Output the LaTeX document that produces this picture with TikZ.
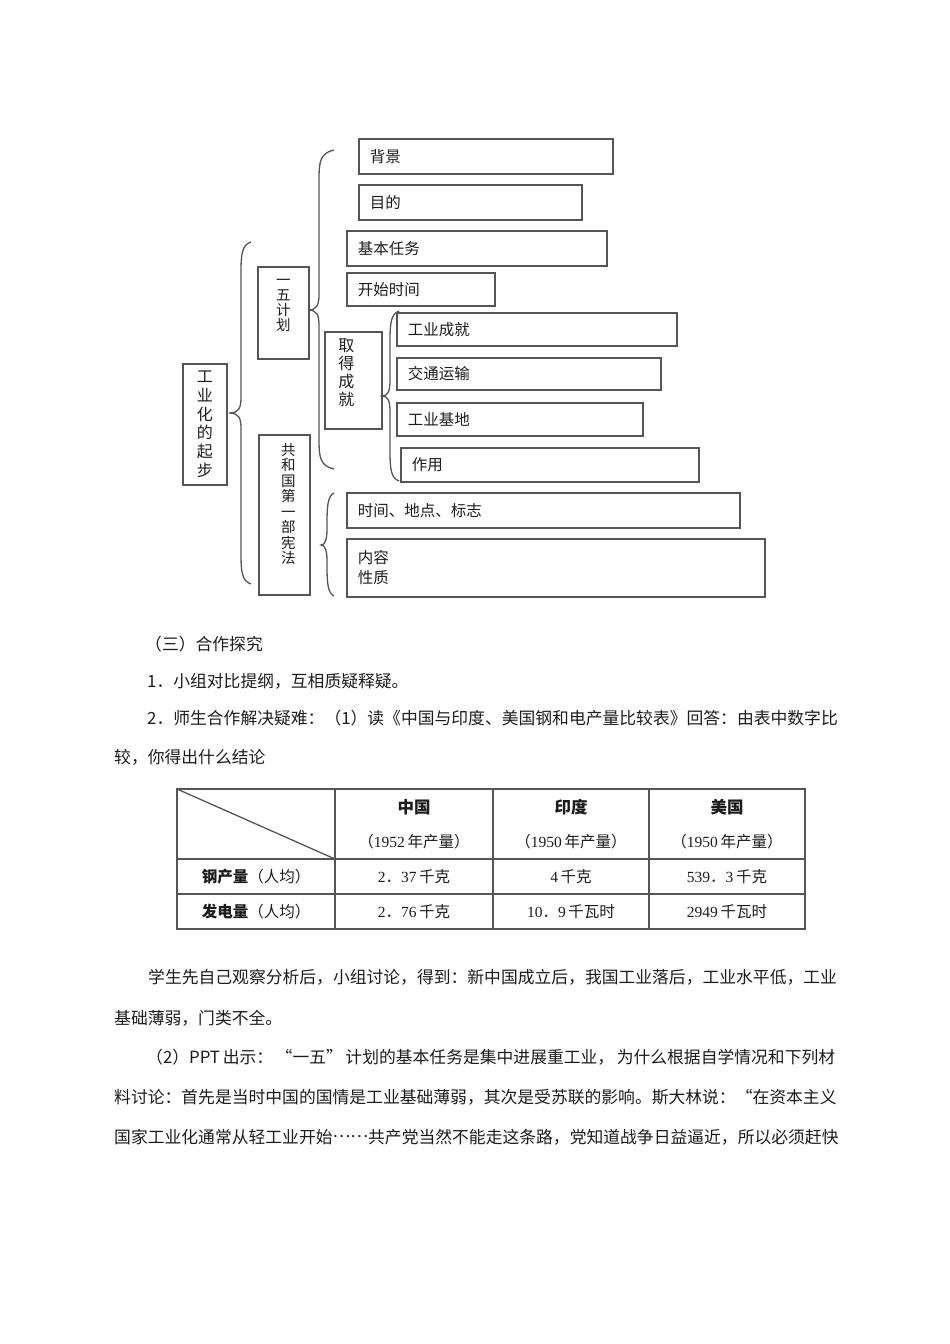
\documentclass[tikz,border=0pt]{standalone}
\usepackage{fontspec}
\setmainfont{Noto Sans CJK SC}
\newfontfamily\numfont{Liberation Serif}
\usepackage{tikz}
\usetikzlibrary{positioning}
\definecolor{inkgray}{RGB}{28,28,28}
\definecolor{framegray}{RGB}{85,85,85}
\XeTeXlinebreaklocale "zh"
\XeTeXlinebreakskip=0pt plus 2pt
\newcommand{\bodyfont}{\fontsize{16.8}{20}\selectfont}
\newcommand{\boxfont}{\fontsize{15.5}{20}\selectfont}
\newcommand{\cellfont}{\fontsize{15.5}{18}\selectfont}
\newcommand{\fullline}[2]{\makebox[#1pt][s]{#2}}
\newcommand{\sk}{\hspace{0pt plus 1fil}}
% x, tip x, top, middle, bottom, curl
\newcommand{\curlyBrace}[6]{%
  \draw[brace] (#1+#6,#3) .. controls (#1+1,#3+3) and (#1,#3+12) .. (#1,#3+30)
    -- (#1,#4-16) .. controls (#1,#4-5) and (#1-2,#4) .. (#2,#4)
    .. controls (#1-2,#4) and (#1,#4+5) .. (#1,#4+16)
    -- (#1,#5-30) .. controls (#1,#5-12) and (#1+1,#5-3) .. (#1+#6,#5);}

\begin{document}
\begin{tikzpicture}[
    x=1pt, y=-1pt,
    hbox/.style={draw=framegray, line width=1.6pt, inner xsep=11pt, inner ysep=0pt, align=left, anchor=north west, font=\boxfont, text=inkgray},
    vframe/.style={draw=framegray, line width=1.6pt, anchor=north west},
    vtext/.style={align=center, inner sep=0pt, text=inkgray},
    brace/.style={draw=framegray, line width=1.3pt},
    body/.style={anchor=west, inner sep=0pt, font=\bodyfont, text=inkgray},
    grid/.style={draw=framegray, line width=1.6pt},
    cell/.style={inner sep=0pt, font=\cellfont, text=inkgray}
]
    \useasboundingbox (0,0) rectangle (950,1344);

    % Outline boxes
    \node[vframe, minimum width=44pt, minimum height=121pt, label={[vtext, font=\fontsize{16}{18.7}\selectfont]center:工\\业\\化\\的\\起\\步}] (qiBu) at (182,363) {};
    \node[vframe, minimum width=51pt, minimum height=92pt, label={[vtext, font=\fontsize{14.5}{15}\selectfont, yshift=7pt]center:一\\五\\计\\划}] (yiWu) at (257,266) {};
    \node[vframe, minimum width=51pt, minimum height=160pt, label={[vtext, font=\fontsize{14.5}{15.5}\selectfont, yshift=11pt, xshift=4pt]center:共\\和\\国\\第\\一\\部\\宪\\法}] (xianFa) at (258,434) {};
    \node[vframe, minimum width=57pt, minimum height=97pt, label={[vtext, font=\fontsize{16}{18}\selectfont, yshift=8pt, xshift=-7pt]center:取\\得\\成\\就}] (quDe) at (324,331) {};

    \node[hbox, text width=232pt, minimum height=35pt] (beiJing) at (358,138) {背景};
    \node[hbox, text width=201pt, minimum height=35pt] (muDi) at (358,184) {目的};
    \node[hbox, text width=238pt, minimum height=35pt] (renWu) at (346,230) {基本任务};
    \node[hbox, text width=126pt, minimum height=33pt] (kaiShi) at (346,272) {开始时间};
    \node[hbox, text width=258pt, minimum height=33pt] (gongYe) at (396,312) {工业成就};
    \node[hbox, text width=242pt, minimum height=32pt] (jiaoTong) at (396,357) {交通运输};
    \node[hbox, text width=224pt, minimum height=33pt] (jiDi) at (396,402) {工业基地};
    \node[hbox, text width=276pt, minimum height=34pt] (zuoYong) at (400,447) {作用};
    \node[hbox, text width=371pt, minimum height=35pt] (biaoZhi) at (346,492) {时间、地点、标志};
    \node[hbox, text width=396pt, minimum height=58pt] (neiRong) at (346,538) {内容\\性质};

    % Braces
    \curlyBrace{241}{229}{242}{413}{584}{10}
    \curlyBrace{319}{308}{150}{310}{469}{15}
    \curlyBrace{390}{382}{311}{396}{481}{9}
    \curlyBrace{327}{321}{493}{545}{596}{7}

    % Text
    \node[body] (secTitle) at (145,644) {（三）合作探究};
    \node[body] (itemOne) at (147,681) {1．小组对比提纲，互相质疑释疑。};
    \node[body] (itemTwo) at (147,718) {\fullline{688}{2．师生合作解决疑难：（1）读《中国与印度、美国钢和电产量比较表》回答：由表中数字比}};
    \node[body] (itemTwoB) at (114,757) {较，你得出什么结论};

    % Table
    \draw[grid] (177,789) rectangle (805,929);
    \draw[grid] (177,859) -- (805,859) (177,894) -- (805,894);
    \foreach \cx in {335,493,649}
        \draw[grid] (\cx,789) -- (\cx,929);
    \draw[grid, line width=1.3pt] (177,789) -- (335,859);

    \node[cell, font=\fontsize{16.5}{18}\selectfont\bfseries] (hdChina) at (414,807) {中国};
    \node[cell, font=\fontsize{16.5}{18}\selectfont\bfseries] (hdIndia) at (571,807) {印度};
    \node[cell, font=\fontsize{16.5}{18}\selectfont\bfseries] (hdUsa) at (727,807) {美国};
    \node[cell] (yrChina) at (414,842) {（{\numfont 1952}\,年产量）};
    \node[cell] (yrIndia) at (571,842) {（{\numfont 1950}\,年产量）};
    \node[cell] (yrUsa) at (727,842) {（{\numfont 1950}\,年产量）};
    \node[cell] (rowSteel) at (256,877) {{\bfseries 钢产量}（人均）};
    \node[cell] (rowPower) at (256,912) {{\bfseries 发电量}（人均）};
    \node[cell] (steelChina) at (414,877) {{\numfont 2}．{\numfont 37}\,千克};
    \node[cell] (steelIndia) at (571,877) {{\numfont 4}\,千克};
    \node[cell] (steelUsa) at (727,877) {{\numfont 539}．{\numfont 3}\,千克};
    \node[cell] (powerChina) at (414,912) {{\numfont 2}．{\numfont 76}\,千克};
    \node[cell] (powerIndia) at (571,912) {{\numfont 10}．{\numfont 9}\,千瓦时};
    \node[cell] (powerUsa) at (727,912) {{\numfont 2949}\,千瓦时};

    % Text below
    \node[body] (findA) at (148,977) {\fullline{687}{学生先自己观察分析后，小组讨论，得到：新中国成立后，我国工业落后，工业水平低，工业}};
    \node[body] (findB) at (114,1018) {基础薄弱，门类不全。};
    \node[body] (pptA) at (146,1057) {\fullline{689}{（2）PPT\,出示：\sk{}“一五”\sk{}计划的基本任务是集中进展重工业，\sk{}为什么根据自学情况和下列材}};
    \node[body] (pptB) at (114,1097) {\fullline{721}{料讨论：首先是当时中国的国情是工业基础薄弱，其次是受苏联的影响。斯大林说：“在资本主义}};
    \node[body] (pptC) at (114,1137) {\fullline{721}{国家工业化通常从轻工业开始\raisebox{0.32em}{……}共产党当然不能走这条路，党知道战争日益逼近，所以必须赶快}};
\end{tikzpicture}
\end{document}
